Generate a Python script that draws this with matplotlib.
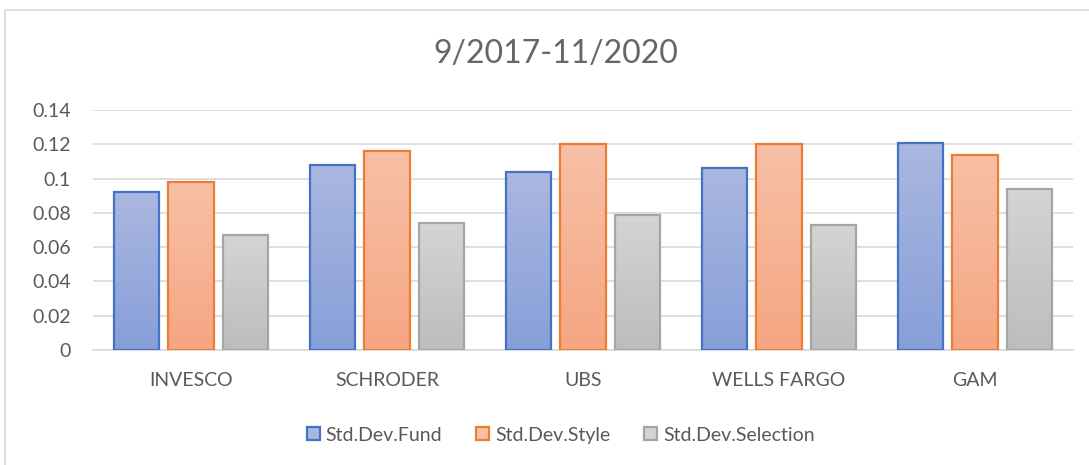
import numpy as np
import matplotlib.pyplot as plt
from matplotlib.patches import Rectangle, Patch
from matplotlib.colors import LinearSegmentedColormap

plt.rcParams['font.family'] = ['Lato', 'DejaVu Sans']

title = '9/2017-11/2020'
categories = ['INVESCO', 'SCHRODER', 'UBS', 'WELLS FARGO', 'GAM']
series_names = ['Std.Dev.Fund', 'Std.Dev.Style', 'Std.Dev.Selection']
fund = [0.092, 0.108, 0.104, 0.106, 0.121]
style = [0.098, 0.116, 0.120, 0.120, 0.114]
selection = [0.067, 0.074, 0.079, 0.073, 0.094]

# (top colour, bottom colour, edge colour)
colours = [('#AAB7E0', '#879FD8', '#4472C4'),
           ('#F7C0A7', '#F5A682', '#ED7D31'),
           ('#D4D4D4', '#BDBDBD', '#A5A5A5')]

fig = plt.figure(figsize=(10.89, 4.65), dpi=100)
ax = fig.add_axes([0.0854, 0.2473, 0.8999, 0.5161])

# chart frame (cut off at right / bottom like the screenshot)
fig.patches.append(Rectangle((0.0046, -0.05), 1.1, 0.9785 + 0.05, transform=fig.transFigure,
                             fill=False, edgecolor='#D9D9D9', lw=1.2))

x = np.arange(len(categories))
step = 0.278
width = 0.23
grad = np.linspace(0, 1, 100).reshape(-1, 1)
handles = []
for i, vals in enumerate([fund, style, selection]):
    top, bottom, edge = colours[i]
    cmap = LinearSegmentedColormap.from_list('g%d' % i, [bottom, top])
    bars = ax.bar(x + (i - 1) * step, vals, width, facecolor='none', edgecolor=edge, lw=1.6, zorder=3)
    for b in bars:
        bx, by = b.get_x(), b.get_y()
        im = ax.imshow(grad, cmap=cmap, aspect='auto', origin='lower',
                       extent=(bx, bx + b.get_width(), by, by + b.get_height()), zorder=2)
        im.set_clip_path(b)
    handles.append(Patch(facecolor=top, edgecolor=edge, lw=1.6, label=series_names[i]))

ax.set_xlim(-0.5, len(categories) - 0.5)
ax.set_ylim(0, 0.14)
ax.set_yticks(np.arange(0, 0.141, 0.02))
ax.set_yticklabels(['0', '0.02', '0.04', '0.06', '0.08', '0.1', '0.12', '0.14'])
ax.set_xticks(x)
ax.set_xticklabels(categories)
ax.tick_params(axis='both', length=0, labelsize=14, colors='#595959')
ax.tick_params(axis='x', pad=16)
ax.tick_params(axis='y', pad=16)
ax.grid(axis='y', color='#D9D9D9', lw=1.2, zorder=0)
for s in ['top', 'right', 'left']:
    ax.spines[s].set_visible(False)
ax.spines['bottom'].set_color('#D9D9D9')
ax.spines['bottom'].set_linewidth(1.2)

fig.text(0.5106, 0.884, title, ha='center', va='center', fontsize=23, color='#666666',
         fontweight='normal')

fig.legend(handles=handles, loc='center', bbox_to_anchor=(0.515, 0.0645), ncol=3, frameon=False,
           fontsize=14, labelcolor='#595959', handlelength=0.67, handleheight=0.67,
           handletextpad=0.3, columnspacing=1.75)

fig.savefig('out.png', dpi=100)
